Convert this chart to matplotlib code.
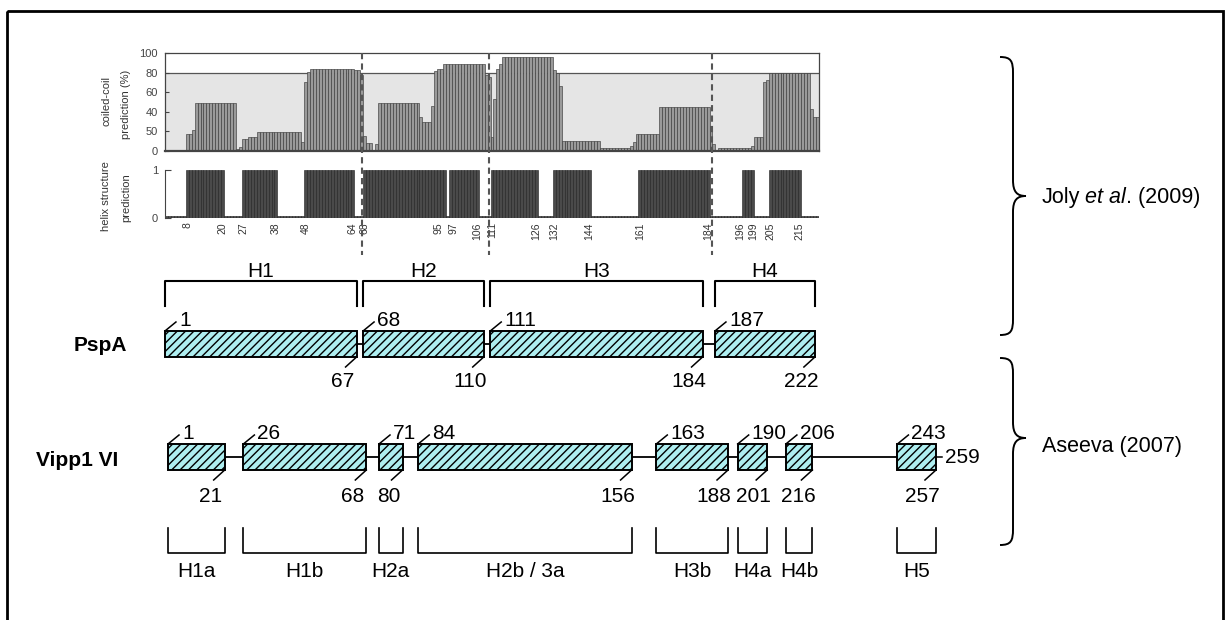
import numpy as np
import matplotlib.pyplot as plt
import matplotlib.transforms as mtransforms
from matplotlib.path import Path
from matplotlib.patches import PathPatch, Rectangle

plt.rcParams['font.family'] = ['Liberation Sans', 'DejaVu Sans']
plt.rcParams['hatch.linewidth'] = 1.0

W, H = 1225, 620

# coiled-coil prediction (%) for PspA, as runs: value repeated over n residues
CC_VALUES = [1, 17, 21, 49, 2, 4, 12, 14, 19, 9, 70, 81, 84, 83, 78, 15, 8, 1, 7, 49,
             35, 30, 46, 82, 84, 89, 78, 76, 14, 53, 84, 89, 96, 83, 80, 66, 10, 3, 5, 9,
             17, 45, 26, 7, 1, 3, 5, 14, 70, 72, 80, 43, 35]
CC_RUNS = [7, 2, 1, 14, 1, 1, 2, 3, 15, 1, 1, 1, 15, 2, 1, 1, 2, 1, 1, 14,
           1, 3, 1, 1, 2, 14, 1, 1, 1, 1, 1, 1, 17, 1, 1, 1, 13, 10, 1, 1,
           8, 17, 1, 1, 1, 11, 1, 3, 1, 1, 14, 1, 2]
CC_TICKS = [0, 20, 40, 60, 80, 100]
CC_TICK_LABELS = ['0', '50', '40', '60', '80', '100']

# helix structure prediction (1 = helix)
HX_START = [8, 27, 48, 68, 97, 111, 132, 161, 196, 205]
HX_END = [20, 38, 64, 95, 106, 126, 144, 184, 199, 215]
HX_TICKS = [8, 20, 27, 38, 48, 64, 68, 95, 97, 106, 111, 126, 132, 144, 161, 184,
            196, 199, 205, 215]
DIVIDERS = [67, 110, 185.5]

# PspA helices (Joly et al. 2009)
PSPA_NAMES = ['H1', 'H2', 'H3', 'H4']
PSPA_START = [1, 68, 111, 187]
PSPA_END = [67, 110, 184, 222]

# Vipp1 helices (Aseeva 2007)
VIPP_NAMES = ['H1a', 'H1b', 'H2a', 'H2b / 3a', 'H3b', 'H4a', 'H4b', 'H5']
VIPP_START = [1, 26, 71, 84, 163, 190, 206, 243]
VIPP_END = [21, 68, 80, 156, 188, 201, 216, 257]
VIPP_LENGTH = 259

BOX_FACE = '#aeeef0'
NUM_FS = 15
LBL_FS = 15
GAP = 2.2

fig = plt.figure(figsize=(W / 100, H / 100), dpi=100)


def px_rect(x0, y0, x1, y1):
    return [x0 / W, 1 - y1 / H, (x1 - x0) / W, (y1 - y0) / H]


cc = np.repeat(CC_VALUES, CC_RUNS)
res = np.arange(1, len(cc) + 1)
helix = np.zeros(len(cc))
for s, e in zip(HX_START, HX_END):
    helix[s - 1:e] = 1
xlim = (0.5, len(cc) + 0.5)

# coiled-coil panel
ax_cc = fig.add_axes(px_rect(165, 53, 819, 151))
ax_cc.set_zorder(3)
ax_cc.axhspan(0, 80, color='#e5e5e5', lw=0, zorder=0)
ax_cc.axhline(80, color='#555555', lw=0.9, zorder=1)
ax_cc.bar(res, cc, width=1, color='#9a9a9a', edgecolor='#3c3c3c', linewidth=0.45, zorder=2)
ax_cc.set_xlim(*xlim)
ax_cc.set_ylim(0, 100)
ax_cc.set_xticks([])
ax_cc.set_yticks(CC_TICKS)
ax_cc.set_yticklabels(CC_TICK_LABELS)
ax_cc.tick_params(axis='y', direction='in', length=3, labelsize=8, colors='#444444', pad=5)
for sp in ax_cc.spines.values():
    sp.set_color('#444444')
    sp.set_linewidth(0.9)
ax_cc.spines['bottom'].set_linewidth(1.6)

for d in DIVIDERS:
    ax_cc.plot([d, d], [1.0, -1.06], transform=ax_cc.get_xaxis_transform(), clip_on=False,
               color='#555555', lw=1.5, ls=(0, (3, 2)), zorder=6)

# helix panel
ax_hx = fig.add_axes(px_rect(165, 170, 819, 218))
ax_hx.set_zorder(2)
ax_hx.patch.set_visible(False)
ax_hx.bar(res, np.where(helix > 0, 1.0, 0.04), width=1, color='#4a4a4a',
          edgecolor='#1e1e1e', linewidth=0.4)
ax_hx.set_xlim(*xlim)
ax_hx.set_ylim(0, 1)
ax_hx.set_yticks([0, 1])
ax_hx.set_xticks(HX_TICKS)
ax_hx.set_xticklabels([str(t) for t in HX_TICKS], rotation=90)
ax_hx.tick_params(axis='x', length=0, pad=3, labelsize=7.5, colors='#333333')
ax_hx.tick_params(axis='y', direction='in', length=4, labelsize=8, colors='#444444', pad=5)
for side in ['top', 'right', 'bottom']:
    ax_hx.spines[side].set_visible(False)
ax_hx.spines['left'].set_color('#444444')

# spread the crowded labels a little, as in the original figure
nudges = {95: -6, 97: 3, 196: -3, 199: 1}
for lab, t in zip(ax_hx.get_xticklabels(), HX_TICKS):
    if t in nudges:
        lab.set_transform(lab.get_transform() +
                          mtransforms.ScaledTranslation(nudges[t] / 100, 0, fig.dpi_scale_trans))


# protein diagrams (x in residues, y in pixels)
def row_axes(p0, scale):
    ax = fig.add_axes([0, 0, 1, 1])
    ax.set_xlim(0.5 - p0 / scale, 0.5 + (W - p0) / scale)
    ax.set_ylim(H, 0)
    ax.set_axis_off()
    return ax


def draw_boxes(ax, starts, ends, scale, top, height, end_dy):
    lefts = [s - 0.5 + GAP / 2 for s in starts]
    rights = [e + 0.5 - GAP / 2 for e in ends]
    mid = top + height / 2
    ax.plot([lefts[0], rights[-1]], [mid, mid], color='black', lw=1.3, zorder=1)
    for s, e, l, r in zip(starts, ends, lefts, rights):
        ax.add_patch(Rectangle((l, top), r - l, height, facecolor=BOX_FACE, edgecolor='black',
                               hatch='////', lw=1.4, zorder=2))
        ax.plot([l, l + 11 / scale], [top, top - 9], color='black', lw=1.1)
        ax.text(l + 14 / scale, top - 5, str(s), fontsize=NUM_FS, ha='left', va='baseline')
        ax.plot([r, r - 11 / scale], [top + height, top + height + 10], color='black', lw=1.1)
        ax.text(r - 14 / scale, top + height + end_dy, str(e), fontsize=NUM_FS,
                ha='center', va='baseline')
    return lefts, rights


S_PSP, S_VIP = 2.957, 3.014
ax_p = row_axes(161.7, S_PSP)
p_left, p_right = draw_boxes(ax_p, PSPA_START, PSPA_END, S_PSP, 331, 26, 30)
for name, l, r in zip(PSPA_NAMES, p_left, p_right):
    ax_p.plot([l, l, r, r], [306, 281, 281, 306], color='black', lw=1.5)
    ax_p.text((l + r) / 2, 277, name, fontsize=LBL_FS, ha='center', va='baseline')

ax_v = row_axes(164.7, S_VIP)
v_left, v_right = draw_boxes(ax_v, VIPP_START, VIPP_END, S_VIP, 444, 26, 32)
ax_v.plot([v_right[-1], v_right[-1] + 6 / S_VIP], [457, 457], color='black', lw=1.1)
ax_v.text(v_right[-1] + 9 / S_VIP, 463, str(VIPP_LENGTH), fontsize=NUM_FS, va='baseline')
for name, l, r in zip(VIPP_NAMES, v_left, v_right):
    ax_v.plot([l, l, r, r], [528, 553, 553, 528], color='black', lw=1.2)
    ax_v.text((l + r) / 2, 577, name, fontsize=LBL_FS, ha='center', va='baseline')

# overlay: frame, axis titles, protein names, braces, citations
ov = fig.add_axes([0, 0, 1, 1])
ov.set_xlim(0, W)
ov.set_ylim(H, 0)
ov.set_axis_off()
ov.add_patch(Rectangle((6.5, 10.5), 1216, 640, fill=False, lw=2.0, edgecolor='black',
                       clip_on=False))

for x, y, t in [(106, 101, 'coiled-coil'), (126, 104, 'prediction (%)'),
                (106, 196, 'helix structure'), (126, 197.5, 'prediction')]:
    ov.text(x, y, t, rotation=90, ha='center', va='center', fontsize=8, color='#333333')

ov.text(127, 351, 'PspA', fontsize=15, fontweight='bold', ha='right', va='baseline')
ov.text(36, 466, 'Vipp1 VI', fontsize=15, fontweight='bold', va='baseline')


def brace(x_tip, x_body, x_cusp, y0, y1, yc, r=16):
    verts = [(x_tip, y0), (x_body - 2, y0), (x_body, y0 + 4), (x_body, y0 + r),
             (x_body, yc - r), (x_body, yc - 4), (x_body + 4, yc), (x_cusp, yc),
             (x_body + 4, yc), (x_body, yc + 4), (x_body, yc + r),
             (x_body, y1 - r), (x_body, y1 - 4), (x_body - 2, y1), (x_tip, y1)]
    codes = [Path.MOVETO, Path.CURVE4, Path.CURVE4, Path.CURVE4, Path.LINETO,
             Path.CURVE4, Path.CURVE4, Path.CURVE4, Path.CURVE4, Path.CURVE4, Path.CURVE4,
             Path.LINETO, Path.CURVE4, Path.CURVE4, Path.CURVE4]
    ov.add_patch(PathPatch(Path(verts, codes), fill=False, lw=1.4, edgecolor='black'))


brace(1000, 1013, 1026, 57, 335, 196)
brace(1000, 1013, 1026, 358, 545, 438)

t1 = ov.text(1042, 203, 'Joly', fontsize=15.5, va='baseline')
t2 = ov.annotate('et al', xy=(1, 0), xycoords=t1, xytext=(5, 0), textcoords='offset pixels',
                 fontsize=15.5, style='italic', va='bottom', ha='left')
ov.annotate('. (2009)', xy=(1, 0), xycoords=t2, fontsize=15.5, va='bottom', ha='left')
ov.text(1042, 452, 'Aseeva (2007)', fontsize=15.5, va='baseline')

fig.savefig('out.png', dpi=100)
